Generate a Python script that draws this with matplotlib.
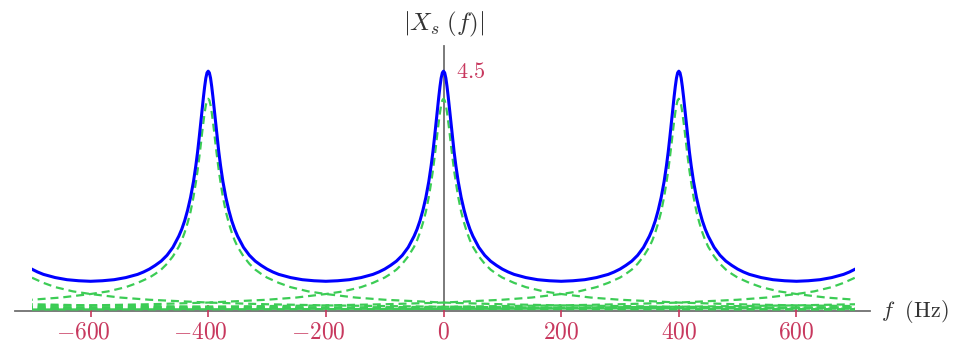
import numpy as np
import matplotlib
matplotlib.use('Agg')
import matplotlib.pyplot as plt
from matplotlib.transforms import ScaledTranslation

plt.rcParams['mathtext.fontset'] = 'cm'
plt.rcParams['font.family'] = 'serif'
plt.rcParams['font.serif'] = ['DejaVu Serif']

####################################################################################################

# one dashed term |X(f - k fs)|, read as a function of the offset from its own peak (Hz, >= 0)
term_offset = [0, 2, 4, 6, 8, 10, 12, 15, 18, 21, 25, 30, 35, 40, 45, 50, 60, 70, 80, 90, 100,
               120, 140, 170, 200, 250, 300, 400, 500, 600, 800, 1000, 1200, 1500, 1900, 2300]
term_value = [4.00, 3.97, 3.88, 3.74, 3.57, 3.39, 3.19, 2.91, 2.65, 2.42, 2.15, 1.87, 1.66, 1.48,
              1.33, 1.21, 1.03, 0.89, 0.78, 0.70, 0.63, 0.53, 0.45, 0.37, 0.32, 0.254, 0.212,
              0.159, 0.127, 0.106, 0.080, 0.064, 0.053, 0.042, 0.034, 0.028]
# peak positions of the dashed terms (fs = 400 Hz)
term_centers = [-1600, -1200, -800, -400, 0, 400, 800, 1200, 1600]

# |Xs(f)| over half a period, offset from a peak (Hz)
sum_offset = [0, 2, 4, 6, 8, 10, 12, 15, 18, 21, 25, 30, 35, 40, 45, 50, 60, 70, 80, 90, 100,
              110, 120, 140, 160, 180, 200]
sum_value = [4.52, 4.49, 4.39, 4.23, 4.04, 3.83, 3.62, 3.30, 3.00, 2.74, 2.44, 2.14, 1.90, 1.70,
             1.54, 1.41, 1.20, 1.05, 0.94, 0.86, 0.79, 0.735, 0.69, 0.63, 0.59, 0.57, 0.56]
sum_centers = [-800, -400, 0, 400, 800]

x_ticks = [-600, -400, -200, 0, 200, 400, 600]
x_tick_labels = [r'$-600$', r'$-400$', r'$-200$', r'$0$', r'$200$', r'$400$', r'$600$']

####################################################################################################

half_x = np.array(term_offset, dtype=float)
half_y = np.array(term_value)
term_x = np.concatenate([-half_x[:0:-1], half_x])
term_y = np.concatenate([half_y[:0:-1], half_y])

period_x = np.concatenate([-np.array(sum_offset[:0:-1], dtype=float), sum_offset])
period_y = np.concatenate([sum_value[:0:-1], sum_value])
sum_x = np.concatenate([period_x[:-1] + c for c in sum_centers])
sum_y = np.concatenate([period_y[:-1] for c in sum_centers])

figure = plt.figure(figsize=(9.58, 3.44), dpi=100)
axe = figure.add_axes([0.0331, 0.0805, 0.8597, 0.7866])
axe.set_xlim(-700, 700)
axe.set_ylim(-0.1, 5.0)

green = '#3ccc55'
for center in term_centers:
    axe.plot(term_x + center, term_y, color=green, lw=1.6, dashes=(3.6, 2.2), zorder=2)
axe.plot(sum_x, sum_y, color='#0000ff', lw=2.2, zorder=3, solid_capstyle='butt')

# axes through the origin
axis_grey = '#707070'
for side in ('top', 'right', 'left', 'bottom'):
    axe.spines[side].set_visible(False)
axe.plot([-728, 725], [0, 0], color=axis_grey, lw=1.3, clip_on=False, zorder=1)
axe.plot([0, 0], [0, 5.0], color=axis_grey, lw=1.3, clip_on=False, zorder=1)
axe.spines['bottom'].set_position(('data', 0))

tick_red = '#c8385e'
axe.set_xticks(x_ticks)
axe.set_xticklabels(x_tick_labels, fontsize=17, color=tick_red)
axe.tick_params(axis='x', direction='inout', length=9, width=1.2, color=tick_red, pad=2)
axe.set_yticks([])
for value, label in zip(x_ticks, axe.get_xticklabels()):
    if value == 0:
        label.set_visible(False)
    elif value < 0:
        label.set_transform(label.get_transform() + ScaledTranslation(-5.5 / 72, 0, figure.dpi_scale_trans))
axe.annotate(r'$0$', xy=(0, 0), xytext=(0, -15), textcoords='offset points', ha='center', va='center',
             fontsize=17, color=tick_red, annotation_clip=False)

axe.annotate(r'$4.5$', xy=(0, 4.5), xytext=(9, 0), textcoords='offset points', ha='left', va='center',
             fontsize=16, color=tick_red)
axe.annotate(r'$|X_s\;(f)|$', xy=(0, 5.0), xytext=(0, 15), textcoords='offset points', ha='center',
             va='center', fontsize=18, color='#333333', annotation_clip=False)
axe.annotate(r'$f\ \ (\mathrm{Hz})$', xy=(725, 0), xytext=(8, 0), textcoords='offset points', ha='left',
             va='center', fontsize=16, color='#333333', annotation_clip=False)

figure.savefig('out.png', dpi=100)
